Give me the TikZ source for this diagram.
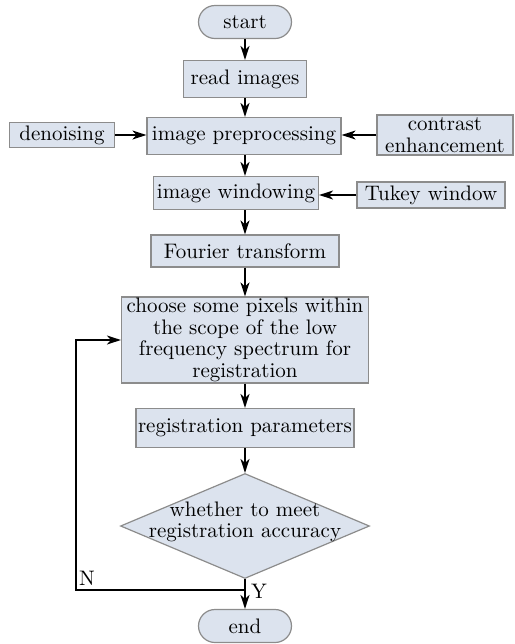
\documentclass[tikz,border=0pt]{standalone}
\usepackage{tikz}
\usetikzlibrary{shapes.geometric, shapes.misc, arrows.meta, positioning}

\definecolor{boxfill}{HTML}{DCE3EE}
\definecolor{boxline}{HTML}{8C8C8C}

\tikzset{
    procbox/.style={rectangle, draw=boxline, fill=boxfill, line width=0.6pt,
        inner sep=0.5pt, align=center, font=\fontsize{10.5}{10.8}\selectfont},
    termbox/.style={procbox, rounded rectangle},
    flow/.style={-{Stealth[length=7pt, width=4.5pt, inset=2pt]}, line width=0.8pt}
}

\begin{document}
\begin{tikzpicture}[x=0.5pt, y=-0.5pt]
    \useasboundingbox (0,0) rectangle (515,644);

    % main chain
    \node[termbox, minimum width=47.5pt, minimum height=16.5pt] (start) at (245,22) {start};
    \node[procbox, minimum width=61.5pt, minimum height=18.5pt] (read) at (245,79) {read images};
    \node[procbox, minimum width=97pt, minimum height=18.5pt] (prep) at (244,136) {image preprocessing};
    \node[procbox, minimum width=82.5pt, minimum height=16.5pt] (window) at (236,193) {image windowing};
    \node[procbox, minimum width=94pt, minimum height=16pt] (fourier) at (245,251) {Fourier transform};
    \node[procbox, minimum width=123.5pt, minimum height=43pt] (choose) at (245,340)
        {choose some pixels within\\the scope of the low\\frequency spectrum for\\registration};
    \node[procbox, minimum width=109pt, minimum height=19.5pt] (params) at (245,428) {registration parameters};
    \node[procbox, diamond, minimum width=124.5pt, minimum height=52.5pt, inner sep=0pt,
        label={[align=center, font=\fontsize{10.5}{10.8}\selectfont, yshift=2pt]center:whether to meet\\registration accuracy}]
        (check) at (245,526) {};
    \node[termbox, minimum width=47.5pt, minimum height=16.5pt] (end) at (245,626) {end};

    % side inputs
    \node[procbox, minimum width=52.5pt, minimum height=12.5pt] (denoise) at (62,135) {denoising};
    \node[procbox, minimum width=68pt, minimum height=20pt] (contrast) at (445,135) {contrast\\enhancement};
    \node[procbox, minimum width=74pt, minimum height=13pt] (tukey) at (431,195) {Tukey window};

    % arrows
    \draw[flow] (start) -- (read);
    \draw[flow] (read) -- (read |- prep.north);
    \draw[flow] (prep.south -| fourier.north) -- (fourier.north |- window.north);
    \draw[flow] (fourier.north |- window.south) -- (fourier);
    \draw[flow] (fourier) -- (choose);
    \draw[flow] (choose) -- (params);
    \draw[flow] (params) -- (check);
    \draw[flow] (check) -- (end);
    \draw[flow] (denoise) -- (prep.west |- denoise);
    \draw[flow] (contrast) -- (prep.east |- contrast);
    \draw[flow] (tukey) -- (window.east |- tukey);

    % N branch back to the pixel choice
    \coordinate (split) at (245,590);
    \coordinate (back) at (76,590);
    \draw[flow] (split) -- (back) |- (choose.west);
    \node[font=\fontsize{10.5}{10.8}\selectfont] (no) at (87,578) {N};
    \node[font=\fontsize{10.5}{10.8}\selectfont] (yes) at (259,591) {Y};
\end{tikzpicture}
\end{document}
